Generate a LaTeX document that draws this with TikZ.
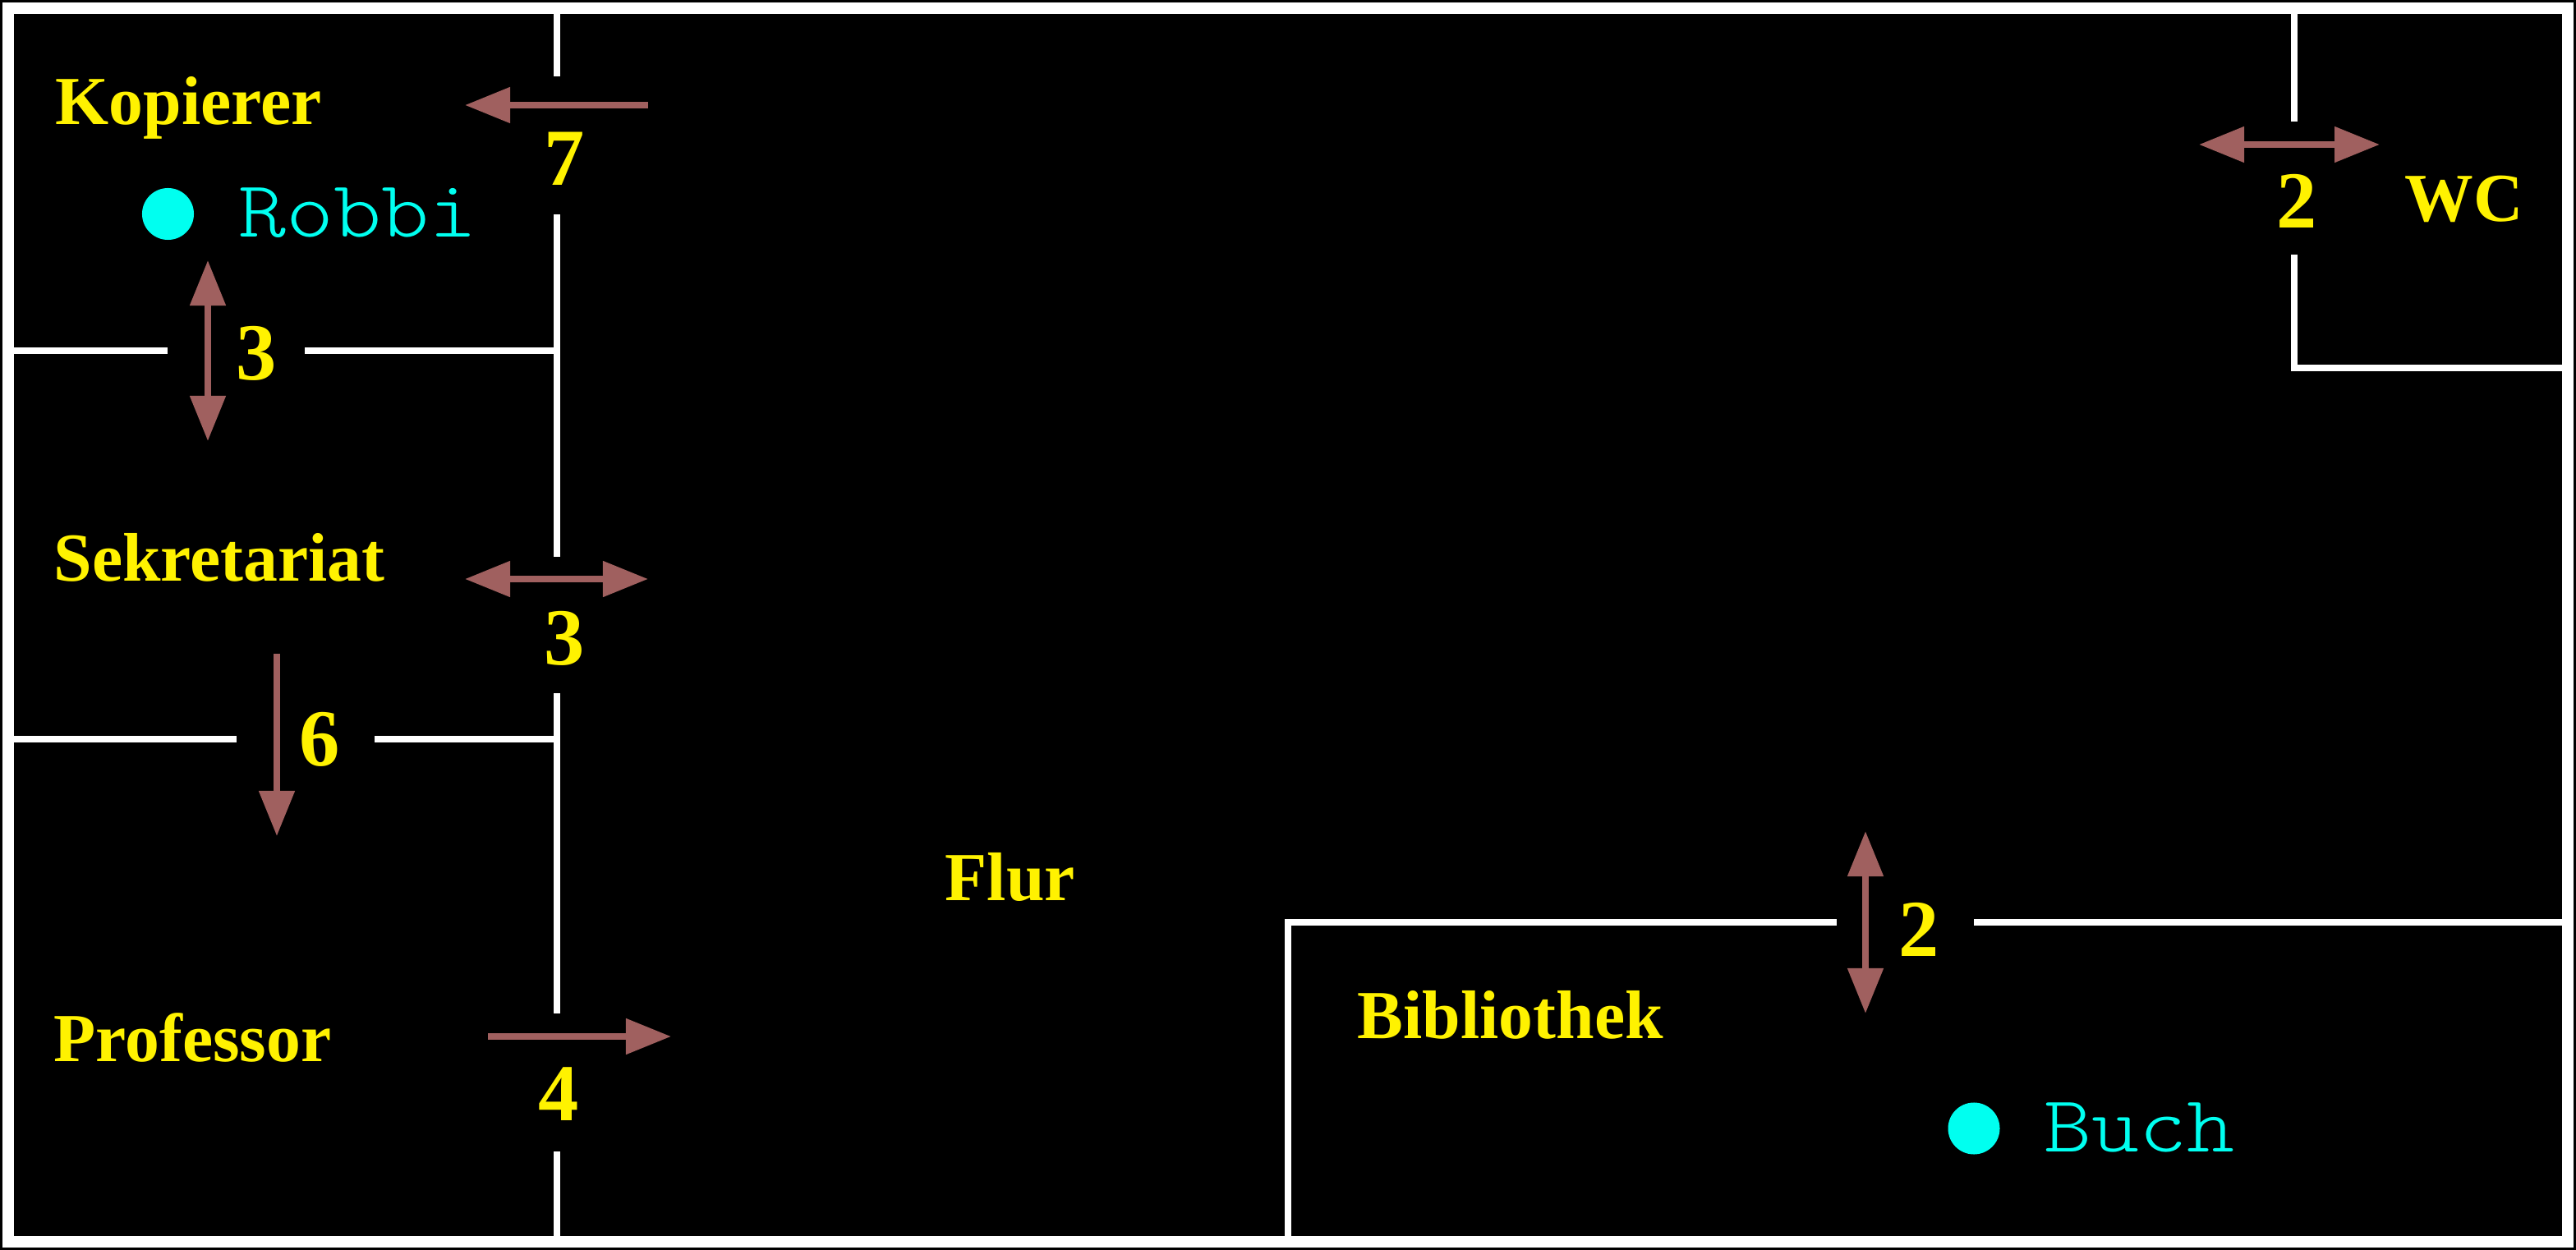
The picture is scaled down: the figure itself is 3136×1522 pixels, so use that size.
\documentclass[tikz,border=0pt]{standalone}
\usepackage{fontspec}
\setmainfont{Liberation Serif}
\newfontfamily\markfont{Latin Modern Mono Light}[FakeStretch=1.13]
\usetikzlibrary{arrows.meta}
\definecolor{pathbrown}{HTML}{A0605F}
\definecolor{markcyan}{HTML}{00FFF0}
\tikzset{
  wall/.style={white,line width=.075cm},
  frameline/.style={white,line width=.14cm},
  pathway/.style={pathbrown,line width=.08cm,>={Triangle[length=.55cm,width=.42cm]}},
  roomlabel/.style={yellow,anchor=base west,inner sep=0pt,font=\bfseries\fontsize{23.8}{24}\selectfont},
  steplabel/.style={yellow,anchor=base,inner sep=0pt,font=\bfseries\fontsize{28}{28}\selectfont},
  marklabel/.style={markcyan,anchor=base west,inner sep=0pt,font=\markfont\fontsize{27.8}{30}\selectfont},
  markdot/.style={circle,fill=markcyan,inner sep=0pt,minimum size=.63cm}
}
\begin{document}
\begin{tikzpicture}[x=.01cm,y=-.01cm]
    \fill[black] (0,0) rectangle (3136,1522);
    \draw[frameline] (10,10) rectangle (3126,1512);
    % walls
    \draw[wall] (678,16) -- (678,93);
    \draw[wall] (678,261) -- (678,678);
    \draw[wall] (678,844) -- (678,1234);
    \draw[wall] (678,1402) -- (678,1506);
    \draw[wall] (16,427) -- (204,427);
    \draw[wall] (371,427) -- (678,427);
    \draw[wall] (16,900) -- (288,900);
    \draw[wall] (456,900) -- (678,900);
    \draw[wall] (1568,1506) -- (1568,1123) -- (2236,1123);
    \draw[wall] (2403,1123) -- (3120,1123);
    \draw[wall] (2793,16) -- (2793,148);
    \draw[wall] (2793,310) -- (2793,448) -- (3120,448);
    % rooms
    \node[roomlabel] (kopierer) at (67,152) {Kopierer};
    \node[roomlabel] (sekretariat) at (65,708) {Sekretariat};
    \node[roomlabel] (professor) at (65,1292) {Professor};
    \node[roomlabel] (flur) at (1150,1096) {Flur};
    \node[roomlabel] (bibliothek) at (1652,1264) {Bibliothek};
    \node[roomlabel] (wc) at (2927,270) {WC};
    % Robbi and Buch
    \node[markdot] (robbidot) at (204.5,260.5) {};
    \node[marklabel] (robbi) at (290,289) {Robbi};
    \node[markdot] (buchdot) at (2403,1374) {};
    \node[marklabel] (buch) at (2488,1402) {Buch};
    % ways
    \draw[pathway,->] (789,128) -- (566,128);
    \node[steplabel] (seven) at (687,226) {7};
    \draw[pathway,<->] (253,317) -- (253,537);
    \node[steplabel] (threea) at (312,463) {3};
    \draw[pathway,<->] (566,705) -- (789,705);
    \node[steplabel] (threeb) at (687,810) {3};
    \draw[pathway,->] (337,796) -- (337,1018);
    \node[steplabel] (six) at (389,932) {6};
    \draw[pathway,->] (594,1262) -- (817,1262);
    \node[steplabel] (four) at (680,1364) {4};
    \draw[pathway,<->] (2677,176) -- (2897,176);
    \node[steplabel] (twoa) at (2796,278) {2};
    \draw[pathway,<->] (2271,1012) -- (2271,1234);
    \node[steplabel] (twob) at (2336,1164) {2};
\end{tikzpicture}
\end{document}
